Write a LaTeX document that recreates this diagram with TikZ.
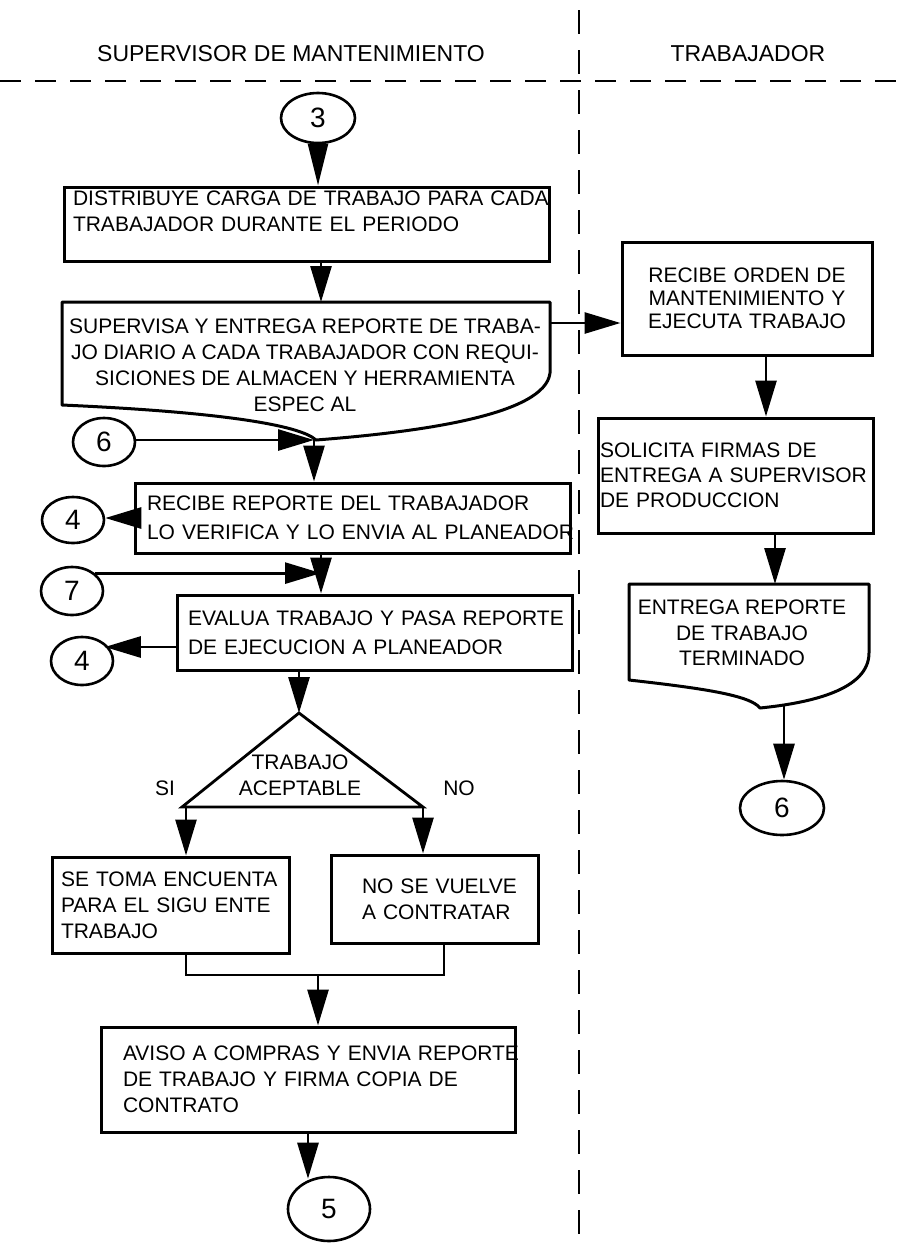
\documentclass[tikz,border=0pt]{standalone}
\usepackage{fontspec}
\setmainfont{Liberation Sans}
\usetikzlibrary{arrows.meta,shapes.geometric}
\begin{document}
\begin{tikzpicture}[x=1pt,y=-1pt,
  lane/.style={line width=2.8pt},
  box/.style={draw, line width=3pt, rectangle, inner ysep=0pt, align=left,
    font=\fontsize{21}{26}\selectfont},
  plain/.style={inner sep=0pt, font=\fontsize{21}{26}\selectfont},
  conn/.style={line width=2.8pt, -{Triangle[length=36pt,width=21pt]}},
  link/.style={line width=2.8pt},
  circ/.style={ellipse, draw, line width=2.6pt, inner sep=0pt,
    font=\fontsize{28}{30}\selectfont},
  title/.style={inner sep=0pt, font=\fontsize{23}{26}\selectfont},
  outline/.style={line width=3pt, line join=round}
]
\fill[white] (0,0) rectangle (897,1243);
\useasboundingbox (0,0) rectangle (897,1243);

% swimlane headers and separators
\node[title] (h1) at (291,54) {SUPERVISOR DE MANTENIMIENTO};
\node[title] (h2) at (748,54) {TRABAJADOR};
\draw[lane, dash pattern=on 21pt off 14pt] (0,81) -- (897,81);
\draw[lane, dash pattern=on 24pt off 16pt] (579,10) -- (579,1243);

% ---------- supervisor lane ----------
\node[circ, minimum width=74pt, minimum height=50pt] (c3) at (318,118) {3};

\node[box, text width=467pt, inner xsep=9pt, minimum height=74pt] (b1) at (306.5,224)
  {\mbox{DISTRIBUYE CARGA DE TRABAJO PARA CADA}\\\mbox{TRABAJADOR DURANTE EL PERIODO}\\\mbox{}};

% document shape with wavy bottom
\draw[outline] (62,302) -- (550,302) -- (550,373)
  .. controls (545,415) and (420,432) .. (316,440)
  .. controls (300,425) and (220,412) .. (62,405) -- cycle;
\node[plain, align=center] (b2) at (305,365)
  {SUPERVISA Y ENTREGA REPORTE DE TRABA-\\JO DIARIO A CADA TRABAJADOR CON REQUI-\\SICIONES DE ALMACEN Y HERRAMIENTA\\ESPEC AL};
\coordinate (b2n) at (321,302);
\coordinate (b2e) at (550,323);
\coordinate (b2b) at (314,440);

\node[circ, minimum width=62pt, minimum height=48pt] (c6a) at (104,442) {6};

\node[box, text width=411pt, inner xsep=12pt, minimum height=70pt,
  font=\fontsize{21}{29}\selectfont] (b3) at (352.5,518)
  {\mbox{RECIBE REPORTE DEL TRABAJADOR}\\\mbox{LO VERIFICA Y LO ENVIA AL PLANEADOR}};
\node[circ, minimum width=62pt, minimum height=46pt] (c4a) at (73,520) {4};

\coordinate (j7) at (321,574);
\node[circ, minimum width=62pt, minimum height=48pt] (c7) at (72,591) {7};

\node[box, text width=373pt, inner xsep=11pt, minimum height=75pt,
  font=\fontsize{21}{29}\selectfont] (b4) at (374.5,632.5)
  {\mbox{EVALUA TRABAJO Y PASA REPORTE}\\\mbox{DE EJECUCION A PLANEADOR}};
\node[circ, minimum width=62pt, minimum height=48pt] (c4b) at (82,661) {4};

% decision
\coordinate (dA) at (299,713);
\coordinate (dL) at (182,807);
\coordinate (dR) at (423,807);
\coordinate (dLa) at (186,807);
\draw[line width=2.8pt, line join=miter] (dA) -- (dR) -- (dL) -- cycle;
\node[plain, align=center] (dec) at (300,775) {TRABAJO\\ACEPTABLE};
\node[plain] (si) at (165,788) {SI};
\node[plain] (no) at (459,788) {NO};

\node[box, text width=219pt, inner xsep=9pt, minimum height=96pt] (st) at (170.5,905)
  {\mbox{SE TOMA ENCUENTA}\\\mbox{PARA EL SIGU ENTE}\\\mbox{TRABAJO}};
\node[box, text width=145pt, inner xsep=31pt, minimum height=88pt] (nv) at (434.5,899)
  {\mbox{NO SE VUELVE}\\\mbox{A CONTRATAR}};

\coordinate (jL) at (186,975);
\coordinate (jR) at (444,975);
\coordinate (jM) at (318,975);

\node[box, text width=370pt, inner xsep=22pt, minimum height=105pt] (av) at (308,1079.5)
  {\mbox{AVISO A COMPRAS Y ENVIA REPORTE}\\\mbox{DE TRABAJO Y FIRMA COPIA DE}\\\mbox{CONTRATO}};
\coordinate (a5) at (308,0);
\node[circ, minimum width=82pt, minimum height=64pt] (c5) at (329,1209) {5};

% ---------- worker lane ----------
\node[box, text width=230pt, inner xsep=10pt, minimum height=113pt, align=center,
  font=\fontsize{21}{23}\selectfont] (o1) at (747,298.5)
  {RECIBE ORDEN DE\\MANTENIMIENTO Y\\EJECUTA TRABAJO};
\node[box, text width=271pt, inner xsep=2pt, minimum height=115pt,
  font=\fontsize{21}{25}\selectfont] (o2) at (735.5,475.5)
  {\mbox{SOLICITA FIRMAS DE}\\\mbox{ENTREGA A SUPERVISOR}\\\mbox{DE PRODUCCION}};
\coordinate (ax1) at (766,0);
\coordinate (d3t) at (775,584);

\draw[outline] (629,584) -- (869,584) -- (869,653)
  .. controls (869,690) and (810,703) .. (760,708)
  .. controls (750,695) and (700,688) .. (629,680) -- cycle;
\node[plain, align=center, font=\fontsize{21}{25.5}\selectfont] (d3) at (742,633)
  {ENTREGA REPORTE\\DE TRABAJO\\TERMINADO};
\coordinate (d3b) at (784,706);
\node[circ, minimum width=84pt, minimum height=54pt] (c6b) at (782,808) {6};

% ---------- connectors ----------
\draw[line width=2.8pt, -{Triangle[length=42pt,width=20pt]}] (c3.south) -- (c3.south |- b1.north);
\draw[conn] (b1.south -| b2n) -- (b2n);
\draw[conn] (b2e) -- (b2e -| o1.west);
\draw[conn] (c6a.east |- b2b) -- (b2b);
\draw[conn] (b2b) -- (b2b |- b3.north);
\draw[conn] (b3.west) -- (b3.west -| c4a.east);
\draw[conn] (b3.south -| j7) -- (b4.north -| j7);
\draw[conn] (c7.north east) -- (c7.north east -| j7);
\draw[conn] ([yshift=-14.5pt]b4.west) -- ([yshift=-14.5pt]b4.west -| c4b.north east);
\draw[conn] (b4.south -| dA) -- (dA);
\draw[conn] (dLa) -- (dLa |- st.north);
\draw[conn] (dR) -- (dR |- nv.north);
\draw[link] (st.south -| jL) -- (jL) -- (jR) -- (nv.south -| jR);
\draw[conn] (jM) -- (jM |- av.north);
\draw[conn] (av.south -| a5) -- ([yshift=-3pt]a5 |- c5.north);
\draw[conn] (o1.south -| ax1) -- (o2.north -| ax1);
\draw[conn] (o2.south -| d3t) -- (d3t);
\draw[conn] (d3b) -- (d3b |- c6b.north);
\end{tikzpicture}
\end{document}
